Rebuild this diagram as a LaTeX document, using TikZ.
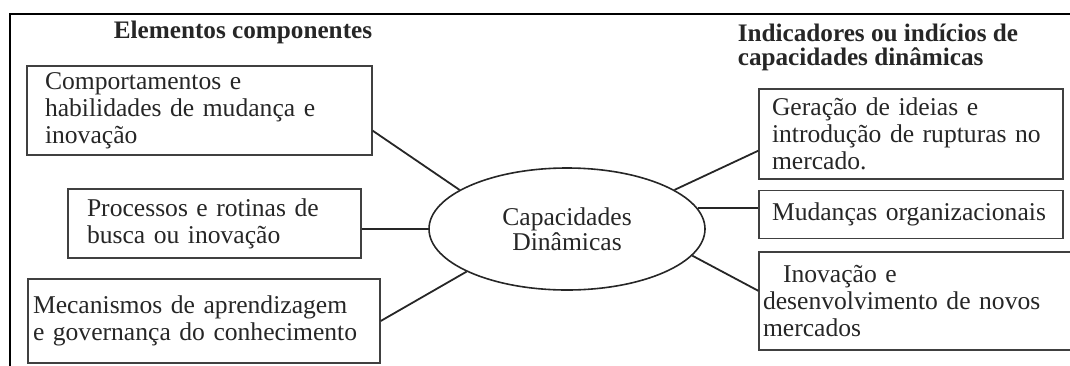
\documentclass[tikz,border=0pt]{standalone}
\usepackage{fontspec}
\setmainfont{Liberation Serif}
\usetikzlibrary{shapes.geometric,positioning}
\tikzset{
    every picture/.style={
        line width=.8pt,x=.5pt,y=-.5pt,node distance=5pt,
        every node/.style={font=\fontsize{12.8}{13.5}\selectfont,text=black!85}
    },
    caixa/.style={draw=black!75,line width=.7pt,rectangle,align=left,inner ysep=1pt},
    oval/.style={draw=black!85,ellipse,minimum width=138pt,minimum height=61pt,inner sep=0pt,
        align=center,font=\fontsize{12.8}{12.5}\selectfont},
    titulo/.style={font=\bfseries\fontsize{12.6}{12}\selectfont,inner sep=0pt,align=left},
    liga/.style={line width=.9pt,draw=black!85}
}

\begin{document}
\begin{tikzpicture}
    \useasboundingbox (0,0) rectangle (1070,365);
    \draw[line width=1pt] (10,14) rectangle (1090,385);
    \node[titulo]                  (elem)  at (243,32) {Elementos componentes};
    \node[titulo,anchor=west]      (indic) at (737,47) {Indicadores ou indícios de\\capacidades dinâmicas};
    \node[oval]                    (cd)    at (567,229) {Capacidades\\Dinâmicas};
    \node[caixa,text width=154.5pt,inner xsep=9pt,minimum height=44.5pt] (comp) at (199.5,110.5)
        {Comportamentos e\\habilidades de mudança e\\inovação};
    \node[caixa,text width=127.5pt,inner xsep=9.5pt,minimum height=34.5pt] (proc) at (214.5,223.5)
        {Processos e rotinas de\\busca ou inovação};
    \node[caixa,text width=171pt,inner xsep=2.5pt,minimum height=42pt] (mec) at (204,321)
        {Mecanismos de aprendizagem\\e governança do conhecimento};
    \node[caixa,text width=139pt,inner xsep=6.5pt,minimum height=45pt] (ger) at (911,134)
        {Geração de ideias e\\introdução de rupturas no\\mercado.};
    \node[caixa,text width=139pt,inner xsep=6.5pt,minimum height=24pt] (mud) [below=of ger]
        {Mudanças organizacionais};
    \node[caixa,text width=161pt,inner xsep=2pt,minimum height=49pt] (inov) [below=6pt of mud.south west,anchor=north west]
        {\hspace*{10pt}Inovação e\\desenvolvimento de novos\\mercados};
    \path[liga] ([yshift=12.5pt]comp.south east) edge (cd.160)
                (cd.west) edge (cd.west -| proc.east)
                (mec.east) edge (cd.203)
                (cd.20) edge ([yshift=14.5pt]ger.south west)
                (cd.9) edge (cd.9 -| mud.west)
                (cd.348) edge ([yshift=5pt]inov.west);
\end{tikzpicture}
\end{document}
